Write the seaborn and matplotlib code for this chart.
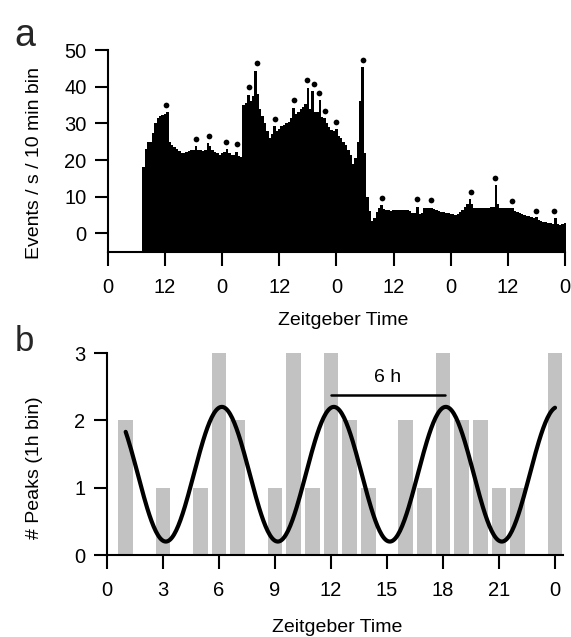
import matplotlib
matplotlib.use("Agg")
import matplotlib.pyplot as plt
import numpy as np
import seaborn as sns

sns.set_theme(style="ticks")
plt.rcParams["font.family"] = ["Liberation Sans", "DejaVu Sans"]

# panel a: event rate, 0.5 h bins, first bin centred at 7.5 h
rate_first_bin = 7.5
rate_bin_width = 0.5
event_rate = [
    18, 23, 25, 25, 27.5, 30, 31.5, 32, 32.3, 32.5, 33, 25,
    24, 23.5, 23, 22.5, 22, 22, 22.3, 22.5, 22.7, 22.8, 23.7, 22.8,
    22.6, 22.5, 22.7, 24.6, 23.8, 22.8, 22.2, 21.8, 21.5, 22, 22.3, 23,
    22, 21.5, 21.4, 22.3, 21, 20.8, 35, 35.5, 37.8, 36, 37.5, 44.4,
    38, 34, 32, 30, 28, 26, 27, 29.2, 28, 28.5, 29.2, 29.6,
    30, 30.5, 31.5, 34.3, 32.5, 33, 33.8, 34.5, 35.3, 39.7, 34, 38.7,
    33, 33, 36.4, 31.8, 31.5, 30, 29, 28.2, 27.8, 28.5, 26.5, 26,
    25, 24, 22.7, 21.5, 19, 20.5, 25, 36, 45.3, 22, 10, 6,
    3.5, 4.3, 5.8, 6.8, 7.6, 6.7, 6.3, 6.3, 6.2, 6.3, 6.4, 6.3,
    6.4, 6.4, 6.5, 6.4, 6.2, 5.6, 5.5, 7.3, 5.4, 5.5, 6.8, 7,
    6.9, 7, 6.6, 6.3, 6.1, 5.9, 5.7, 5.6, 5.5, 5.4, 5.3, 5,
    5.2, 5.8, 6.5, 7.2, 8.1, 9.3, 8, 6.9, 6.8, 6.8, 6.8, 6.9,
    6.9, 7, 7.2, 7.3, 13.2, 8, 6.9, 6.8, 6.8, 6.8, 6.9, 7,
    6, 5.7, 5.5, 5.2, 5, 4.8, 4.6, 4.4, 4.2, 4.4, 3.7, 3.4,
    3.2, 3.0, 2.8, 2.7, 2.6, 4.2, 2.5, 2.4, 2.6, 2.8,
]

# detected peaks (dots)
peak_times = [12.3, 18.6, 21.2, 24.8, 27.1, 29.6, 31.25, 35.0, 39.1, 41.8, 43.2, 44.35,
              45.6, 47.9, 53.6, 57.5, 65.0, 67.8, 76.2, 81.35, 84.85, 89.9, 93.75]
peak_marks = [34.9, 25.7, 26.6, 25.0, 24.3, 39.8, 46.4, 31.2, 36.3, 41.7, 40.7, 38.4,
              33.5, 30.5, 47.3, 9.6, 9.3, 9.0, 11.3, 15.2, 8.8, 6.1, 6.1]

a_ticks = [0, 12, 24, 36, 48, 60, 72, 84, 96]
a_tick_labels = ["0", "12", "0", "12", "0", "12", "0", "12", "0"]

# panel b: peaks per 1 h bin of the day
hour_bins = list(range(25))
peak_counts = [0, 2, 0, 1, 0, 1, 3, 2, 0, 1, 3, 1, 3, 2, 1, 0, 2, 1, 3, 2, 2, 1, 1, 0, 3]

# cosine fit (6 h period)
fit_mean, fit_amp, fit_period, fit_phase = 1.2, 1.0, 6.0, 6.15
fit_start, fit_end = 1.0, 24.0

b_ticks = [0, 3, 6, 9, 12, 15, 18, 21, 24]
b_tick_labels = ["0", "3", "6", "9", "12", "15", "18", "21", "0"]

fig = plt.figure(figsize=(5.71, 6.37), dpi=100)
ax_a = fig.add_axes([0.189, 0.6049, 0.8004, 0.3166])
ax_b = fig.add_axes([0.1874, 0.1287, 0.7993, 0.3171])

# ---- panel a
vals = np.asarray(event_rate, dtype=float)
edges = rate_first_bin - rate_bin_width / 2 + rate_bin_width * np.arange(len(vals) + 1)
ax_a.fill_between(edges, np.append(vals, vals[-1]), -5, step="post",
                  color="black", linewidth=0)
sns.scatterplot(x=peak_times, y=peak_marks, color="black", s=17, linewidth=0,
                ax=ax_a, zorder=3)
ax_a.set_xlim(0, 96)
ax_a.set_ylim(-5, 50)
ax_a.set_yticks([0, 10, 20, 30, 40, 50])
ax_a.set_xticks(a_ticks)
ax_a.set_xticklabels(a_tick_labels)
ax_a.set_ylabel("Events / s / 10 min bin", fontsize=14)
ax_a.set_xlabel("Zeitgeber Time", fontsize=14)
ax_a.yaxis.set_label_coords(-0.142, 0.44)
ax_a.xaxis.set_label_coords(0.514, -0.30)

# ---- panel b
sns.barplot(x=hour_bins, y=peak_counts, native_scale=True, color="#c2c2c2",
            width=0.8, linewidth=0, errorbar=None, ax=ax_b, zorder=1)
fit_t = np.linspace(fit_start, fit_end, 400)
fit_y = fit_mean + fit_amp * np.cos(2 * np.pi * (fit_t - fit_phase) / fit_period)
sns.lineplot(x=fit_t, y=fit_y, color="black", linewidth=3.0, ax=ax_b, zorder=3)
ax_b.plot([12, 18.1], [2.38, 2.38], color="black", linewidth=1.8)
ax_b.text(15.05, 2.63, "6 h", ha="center", va="center", fontsize=14, color="black")
ax_b.set_xlim(0, 24.45)
ax_b.set_ylim(0, 3)
ax_b.set_yticks([0, 1, 2, 3])
ax_b.set_xticks(b_ticks)
ax_b.set_xticklabels(b_tick_labels)
ax_b.set_ylabel("# Peaks (1h bin)", fontsize=14)
ax_b.set_xlabel("Zeitgeber Time", fontsize=14)
ax_b.yaxis.set_label_coords(-0.140, 0.43)
ax_b.xaxis.set_label_coords(0.504, -0.315)

for ax in (ax_a, ax_b):
    sns.despine(ax=ax)
    for side in ("left", "bottom"):
        ax.spines[side].set_linewidth(1.5)
        ax.spines[side].set_color("black")
    ax.tick_params(axis="both", direction="out", width=1.5, color="black",
                   labelsize=14.5, labelcolor="black")
    ax.tick_params(axis="y", length=9.5, pad=6)
    ax.tick_params(axis="x", length=10, pad=9)
    ax.xaxis.label.set_color("black")
    ax.yaxis.label.set_color("black")
    ax.grid(False)
    ax.set_facecolor("white")

fig.text(0.026, 0.972, "a", fontsize=27, ha="left", va="top")
fig.text(0.026, 0.490, "b", fontsize=25, ha="left", va="top")

fig.savefig("out.png", dpi=100, facecolor="white")
